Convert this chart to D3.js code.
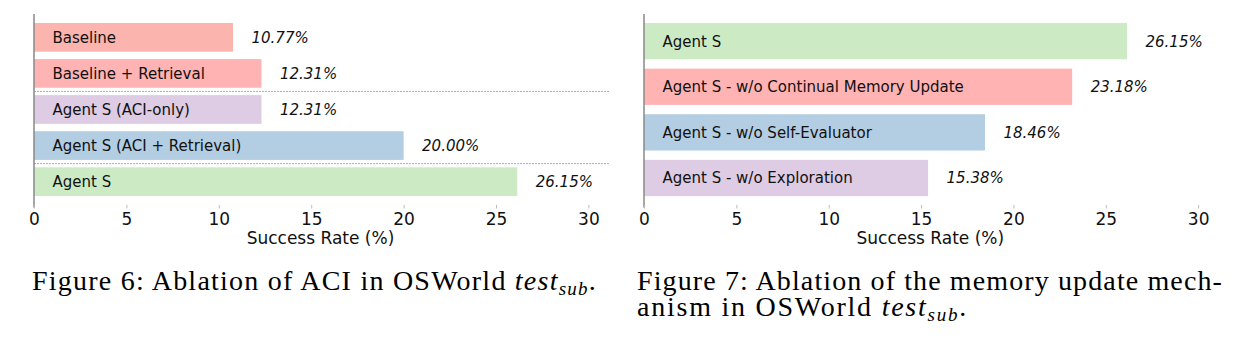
<!DOCTYPE html>
<html><head><meta charset="utf-8">
<script src="https://cdn.jsdelivr.net/npm/d3@7"></script>
<style>body{margin:0;background:#fff}svg{display:block}</style>
</head><body>
<svg id="c" width="1244" height="348"></svg>
<script>
const leftCats = ["Baseline","Baseline + Retrieval","Agent S (ACI-only)","Agent S (ACI + Retrieval)","Agent S"];
const leftVals = [10.77, 12.31, 12.31, 20.00, 26.15];
const leftColors = ["#fbb4ae","#ffb3b3","#decbe4","#b3cde3","#ccebc5"];
const leftSeparators = [1.5, 3.5];
const rightCats = ["Agent S","Agent S - w/o Continual Memory Update","Agent S - w/o Self-Evaluator","Agent S - w/o Exploration"];
const rightVals = [26.15, 23.18, 18.46, 15.38];
const rightColors = ["#ccebc5","#ffb3b3","#b3cde3","#decbe4"];
const xTicks = [0,5,10,15,20,25,30];
const xLabel = "Success Rate (%)";

const svg = d3.select("#c");

function panel(cats, vals, colors, seps, xr, yDomain) {
  const x = d3.scaleLinear().domain([0,31]).range(xr);
  const y = d3.scaleLinear().domain(yDomain).range([14,207]);
  const h = (y(1)-y(0))*0.795;
  const g = svg.append("g");
  g.selectAll("rect.bar").data(vals).join("rect")
    .attr("x", x(0)).attr("y",(d,i)=>y(i)-h/2)
    .attr("width", d=>x(d)-x(0)).attr("height", h)
    .attr("fill",(d,i)=>colors[i]);
  g.selectAll("line.sep").data(seps).join("line")
    .attr("x1", x(0)).attr("x2", x(31)+3)
    .attr("y1", d=>y(d)).attr("y2", d=>y(d))
    .attr("stroke","#999").attr("stroke-width",0.8).attr("stroke-dasharray","2,1");
  g.selectAll("text.cat").data(cats).join("text")
    .attr("x", x(1)).attr("y",(d,i)=>y(i)+5.5)
    .attr("font-family","DejaVu Sans").attr("font-size",15).attr("fill","#111")
    .text(d=>d);
  g.selectAll("text.val").data(vals).join("text")
    .attr("x", d=>x(d+1)).attr("y",(d,i)=>y(i)+5.5)
    .attr("font-family","DejaVu Sans").attr("font-style","italic").attr("font-size",15).attr("fill","#111")
    .text(d=>d.toFixed(2)+"%");
  g.append("line").attr("x1",x(0)).attr("x2",x(0)).attr("y1",14).attr("y2",207.5)
    .attr("stroke","#888").attr("stroke-width",1.5);
  const ax = g.append("g").attr("transform","translate(0,207)")
    .call(d3.axisBottom(x).tickValues(xTicks).tickSize(3).tickPadding(3).tickFormat(d3.format("d")));
  ax.select(".domain").remove();
  ax.selectAll(".tick line").attr("stroke","#bbb").attr("y1",-2).attr("y2",1.5);
  ax.selectAll(".tick text").attr("font-family","DejaVu Sans").attr("font-size",17).attr("fill","#111");
  g.append("text").attr("x",(x(0)+x(31))/2).attr("y",244).attr("text-anchor","middle")
    .attr("font-family","DejaVu Sans").attr("font-size",17).attr("fill","#111").text(xLabel);
}
panel(leftCats,leftVals,leftColors,leftSeparators,[34,606.9],[-0.647,4.703]);
panel(rightCats,rightVals,rightColors,[],[644,1216.6],[-0.595,3.636]);

const capFont = "'Liberation Serif','Times New Roman',serif";
function caption(x, y, parts, target) {
  const t = svg.append("text").attr("x",x).attr("y",y).attr("font-family",capFont)
    .attr("font-size",28).attr("fill","#000");
  let n = 0;
  parts.forEach(p=>{
    const s = t.append("tspan").text(p.t);
    n += p.t.length;
    if (p.i) s.attr("font-style","italic");
    if (p.sub) s.attr("font-size",19).attr("dy",5);
    if (p.up) s.attr("dy",-5);
  });
  const w = t.node().getComputedTextLength();
  t.attr("letter-spacing", ((target - w)/n).toFixed(3));
  return t;
}
caption(32, 290, [{t:"Figure 6: Ablation of ACI in OSWorld "},{t:"test",i:1},{t:"sub",i:1,sub:1},{t:".",up:1}], 565);
caption(637, 290, [{t:"Figure 7: Ablation of the memory update mech-"}], 586);
caption(637, 316, [{t:"anism in OSWorld "},{t:"test",i:1},{t:"sub",i:1,sub:1},{t:".",up:1}], 331);
</script>
</body></html>
